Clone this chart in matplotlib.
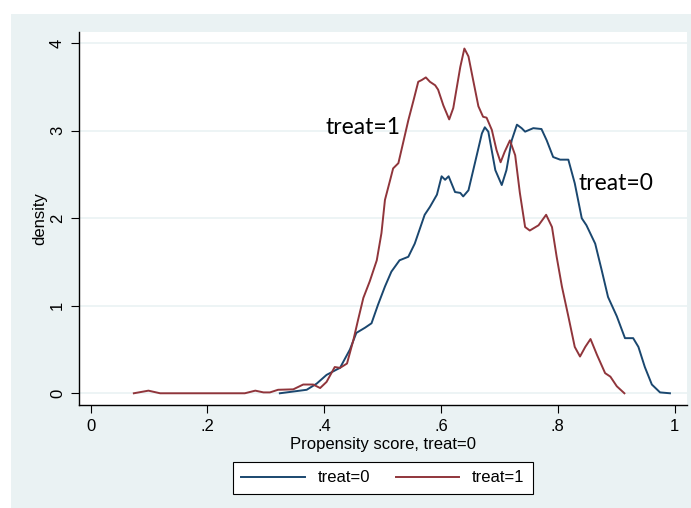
import matplotlib
matplotlib.use("Agg")
import matplotlib.pyplot as plt
from matplotlib.lines import Line2D
from matplotlib.patches import Rectangle

# kernel density of propensity score
ps_control = [0.324, 0.347, 0.370, 0.387, 0.404, 0.421, 0.427, 0.444, 0.455, 0.470,
              0.481, 0.492, 0.504, 0.515, 0.529, 0.544, 0.555, 0.572, 0.581, 0.593,
              0.601, 0.607, 0.613, 0.624, 0.633, 0.638, 0.647, 0.658, 0.670, 0.675,
              0.681, 0.693, 0.704, 0.712, 0.721, 0.730, 0.738, 0.744, 0.758, 0.772,
              0.781, 0.792, 0.804, 0.818, 0.829, 0.841, 0.849, 0.864, 0.875, 0.886,
              0.901, 0.915, 0.929, 0.938, 0.949, 0.961, 0.975, 0.992]
dens_control = [0.00, 0.02, 0.04, 0.11, 0.21, 0.27, 0.29, 0.50, 0.69, 0.75,
                0.80, 1.01, 1.22, 1.39, 1.52, 1.56, 1.71, 2.04, 2.13, 2.27,
                2.48, 2.44, 2.48, 2.30, 2.29, 2.25, 2.32, 2.63, 2.97, 3.04,
                2.99, 2.55, 2.38, 2.55, 2.89, 3.07, 3.03, 2.99, 3.03, 3.02,
                2.89, 2.70, 2.67, 2.67, 2.40, 2.00, 1.92, 1.71, 1.41, 1.10,
                0.88, 0.63, 0.63, 0.53, 0.30, 0.10, 0.01, 0.00]

ps_treated = [0.074, 0.099, 0.119, 0.264, 0.282, 0.296, 0.307, 0.321, 0.347, 0.364,
              0.381, 0.393, 0.404, 0.418, 0.427, 0.439, 0.450, 0.458, 0.467, 0.478,
              0.490, 0.498, 0.504, 0.513, 0.518, 0.527, 0.535, 0.544, 0.553, 0.561,
              0.567, 0.574, 0.581, 0.590, 0.595, 0.604, 0.614, 0.621, 0.633, 0.640,
              0.647, 0.655, 0.664, 0.672, 0.678, 0.687, 0.695, 0.702, 0.709, 0.718,
              0.727, 0.735, 0.744, 0.752, 0.767, 0.780, 0.790, 0.798, 0.807, 0.818,
              0.829, 0.838, 0.847, 0.856, 0.867, 0.881, 0.890, 0.901, 0.914]
dens_treated = [0.00, 0.03, 0.00, 0.00, 0.03, 0.01, 0.01, 0.04, 0.045, 0.10,
                0.10, 0.06, 0.13, 0.30, 0.29, 0.34, 0.61, 0.84, 1.09, 1.28,
                1.52, 1.83, 2.21, 2.44, 2.57, 2.63, 2.86, 3.12, 3.35, 3.56,
                3.58, 3.61, 3.56, 3.52, 3.47, 3.29, 3.13, 3.26, 3.73, 3.94,
                3.85, 3.58, 3.28, 3.16, 3.15, 3.01, 2.78, 2.64, 2.76, 2.89,
                2.72, 2.29, 1.90, 1.86, 1.92, 2.04, 1.90, 1.56, 1.22, 0.88,
                0.53, 0.42, 0.53, 0.62, 0.44, 0.23, 0.19, 0.08, 0.00]

x_ticks = [0, 0.2, 0.4, 0.6, 0.8, 1.0]
x_tick_labels = ["0", ".2", ".4", ".6", ".8", "1"]
y_ticks = [0, 1, 2, 3, 4]

navy = "#1a476f"
maroon = "#90353b"
bg = "#eaf2f3"

plt.rcParams["font.family"] = ["Liberation Sans", "DejaVu Sans"]

fig = plt.figure(figsize=(6.91, 5.08), dpi=100)
fig.patch.set_facecolor(bg)
# thin white edge at top and left, as in the screenshot
fig.add_artist(Rectangle((0, 1 - 14 / 508), 1, 14 / 508, transform=fig.transFigure,
                         facecolor="white", edgecolor="none", zorder=-1))
fig.add_artist(Rectangle((0, 0), 11 / 691, 1, transform=fig.transFigure,
                         facecolor="white", edgecolor="none", zorder=-1))

ax = fig.add_axes([79 / 691, 1 - 405 / 508, 608 / 691, 373 / 508])
ax.set_facecolor("white")

ax.plot(ps_control, dens_control, color=navy, lw=1.4)
ax.plot(ps_treated, dens_treated, color=maroon, lw=1.4)

ax.set_xlim(-0.0199, 1.0212)
ax.set_ylim(-0.134, 4.129)
ax.set_xticks(x_ticks)
ax.set_xticklabels(x_tick_labels)
ax.set_yticks(y_ticks)
for lab in ax.get_yticklabels():
    lab.set_rotation(90)
    lab.set_va("center")
ax.tick_params(axis="both", direction="out", length=6, width=0.8,
               labelsize=12, color="black", pad=4)
ax.grid(axis="y", color=bg, lw=1.2)
ax.set_axisbelow(True)

for side in ["top", "right"]:
    ax.spines[side].set_visible(False)
for side in ["left", "bottom"]:
    ax.spines[side].set_color("black")
    ax.spines[side].set_linewidth(1)

ax.set_xlabel("Propensity score, treat=0", fontsize=12, labelpad=2)
ax.set_ylabel("density", fontsize=12, labelpad=2)

ax.text(0.403, 3.04, "treat=1", fontsize=16.5, family=["Lato", "DejaVu Sans"],
        va="center", ha="left")
ax.text(0.835, 2.40, "treat=0", fontsize=16.5, family=["Lato", "DejaVu Sans"],
        va="center", ha="left")

handles = [Line2D([], [], color=navy, lw=1.4), Line2D([], [], color=maroon, lw=1.4)]
leg = fig.legend(handles, ["treat=0", "treat=1"], ncol=2, loc="center",
                 bbox_to_anchor=(383 / 691, 1 - 478 / 508), fontsize=12,
                 frameon=True, fancybox=False, handlelength=3.8, handletextpad=0.8,
                 columnspacing=1.5, borderpad=0.5, framealpha=1, facecolor="white")
leg.get_frame().set_edgecolor("black")
leg.get_frame().set_linewidth(0.8)

fig.savefig("out.png", dpi=100)
